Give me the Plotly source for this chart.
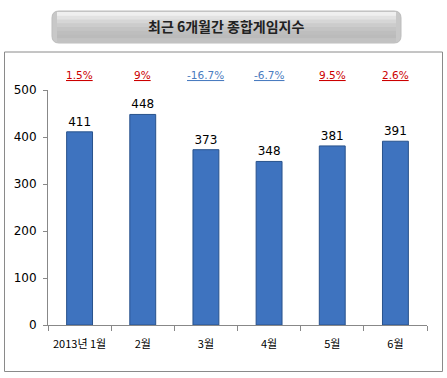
import plotly.graph_objects as go

categories = ["2013년 1월", "2월", "3월", "4월", "5월", "6월"]
values = [411, 448, 373, 348, 381, 391]
changes = ["1.5%", "9%", "-16.7%", "-6.7%", "9.5%", "2.6%"]
title_text = "최근 6개월간 종합게임지수"

W, H = 447, 378
def px(x): return x / W
def py(y): return 1 - y / H

fig = go.Figure()
fig.add_trace(go.Bar(
    x=categories, y=values, width=0.41,
    marker=dict(color="#3e73bf", line=dict(color="#28528c", width=1)),
    text=[str(v) for v in values], textposition="outside",
    textfont=dict(size=12, color="black", family="DejaVu Sans"),
    cliponaxis=False,
))

shapes = []
# outer border
shapes.append(dict(type="rect", xref="paper", yref="paper",
                   x0=px(4.5), x1=px(442.5), y0=py(371.5), y1=py(52),
                   line=dict(color="#8a8a8a", width=1), fillcolor="rgba(0,0,0,0)"))
# title box with gradient bands
x0, x1, y0, y1, r = 52, 401, 11, 43, 7
bands = ["#efefef", "#e2e2e2", "#d6d6d6", "#cccccc", "#c4c4c4", "#bebebe", "#bbbbbb", "#c2c2c2"]
def rounded(x0, y0, x1, y1, r):
    return (f"M {px(x0+r)},{py(y0)} L {px(x1-r)},{py(y0)} Q {px(x1)},{py(y0)} {px(x1)},{py(y0+r)} "
            f"L {px(x1)},{py(y1-r)} Q {px(x1)},{py(y1)} {px(x1-r)},{py(y1)} L {px(x0+r)},{py(y1)} "
            f"Q {px(x0)},{py(y1)} {px(x0)},{py(y1-r)} L {px(x0)},{py(y0+r)} Q {px(x0)},{py(y0)} {px(x0+r)},{py(y0)} Z")
shapes.append(dict(type="path", xref="paper", yref="paper", path=rounded(x0, y0, x1, y1, r),
                   fillcolor="#c8c8c8", line=dict(color="#bdbdbd", width=1), layer="below"))
n = len(bands)
bh = (y1 - y0 - 2) / n
for i, c in enumerate(bands):
    ya = y0 + 1 + i * bh
    yb = ya + bh + 0.5
    shapes.append(dict(type="rect", xref="paper", yref="paper",
                       x0=px(x0 + 5), x1=px(x1 - 5), y0=py(yb), y1=py(ya),
                       fillcolor=c, line=dict(width=0), layer="below"))

annotations = [dict(text=f"<b>{title_text}</b>", x=px(226), y=py(26), xref="paper", yref="paper",
                    xanchor="center", yanchor="middle",
                    showarrow=False, font=dict(size=14, color="#222", family="Noto Sans CJK KR"))]
for c, ch in zip(categories, changes):
    col = "#4a7cc0" if ch.startswith("-") else "#cc0000"
    annotations.append(dict(text=f"<u>{ch}</u>", x=c, y=py(75), xref="x", yref="paper",
                            xanchor="center", yanchor="middle",
                            showarrow=False, font=dict(size=10.5, color=col, family="DejaVu Sans")))

fig.update_layout(
    width=W, height=H, margin=dict(l=0, r=0, t=0, b=0, autoexpand=False),
    paper_bgcolor="white", plot_bgcolor="white", showlegend=False,
    shapes=shapes, annotations=annotations,
    xaxis=dict(domain=[px(48), px(427)], showline=True, linecolor="#888", linewidth=1,
               ticks="outside", ticklen=5, tickcolor="#888", tickson="boundaries",
               tickangle=0, automargin=False, ticklabelstandoff=9,
               tickfont=dict(size=11, color="black", family="Noto Sans CJK KR"), showgrid=False),
    yaxis=dict(domain=[py(325), py(90)], range=[0, 500], dtick=100, showline=True, linecolor="#888",
               linewidth=1, ticks="outside", ticklen=4, tickcolor="#888", showgrid=False, zeroline=False,
               automargin=False, ticklabelstandoff=4,
               tickfont=dict(size=12, color="black", family="DejaVu Sans")),
    bargap=0.58,
)
fig.write_html("out.html", config={"displayModeBar": False},
               post_script="document.body.style.margin='0';document.body.style.overflow='hidden';")
